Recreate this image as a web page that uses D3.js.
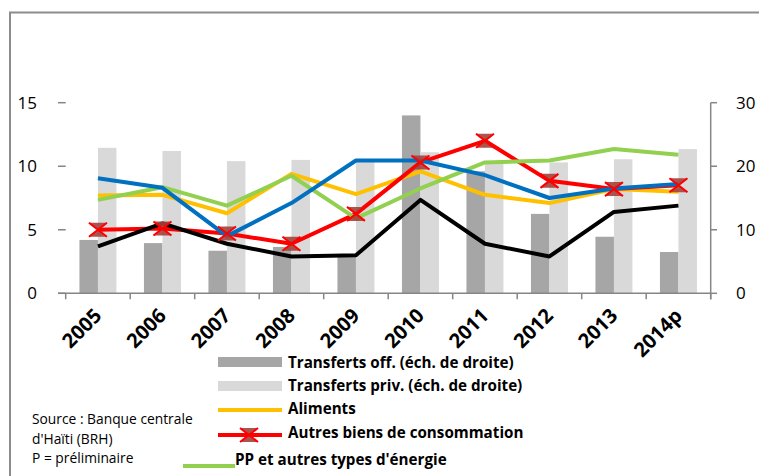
<!DOCTYPE html>
<html>
<head>
<meta charset="utf-8">
<script src="https://cdn.jsdelivr.net/npm/d3@7"></script>
<style>
  body { margin: 0; background: #fff; }
  svg { display: block; font-family: "Open Sans", Lato, sans-serif; }
</style>
</head>
<body>
<div class="graphic"></div>
<script>
var years = ["2005", "2006", "2007", "2008", "2009", "2010", "2011", "2012", "2013", "2014p"];

// right scale (bars)
var transfertsOff = [8.4, 7.9, 6.7, 7.3, 6.0, 28.0, 19.2, 12.5, 8.9, 6.5];
var transfertsPriv = [22.9, 22.4, 20.8, 21.0, 20.8, 22.2, 20.4, 20.6, 21.1, 22.7];

// left scale (lines)
var aliments = [7.7, 7.75, 6.3, 9.4, 7.8, 9.6, 7.75, 7.1, 8.2, 8.0];
var autresBiens = [5.0, 5.1, 4.7, 3.9, 6.25, 10.3, 12.0, 8.85, 8.2, 8.5];
var ppEnergie = [7.35, 8.35, 6.9, 9.25, 5.9, 8.25, 10.3, 10.45, 11.35, 10.9];
var serieBleue = [9.05, 8.3, 4.5, 7.1, 10.45, 10.45, 9.3, 7.5, 8.25, 8.6];
var serieNoire = [3.7, 5.5, 3.9, 2.9, 3.0, 7.35, 3.9, 2.9, 6.4, 6.9];

var leftTicks = [0, 5, 10, 15];
var rightTicks = [0, 10, 20, 30];

var render = function() {
  var width = 759, height = 476;
  var svg = d3.select(".graphic").append("svg")
    .attr("width", width).attr("height", height);

  var x = d3.scaleBand().domain(years).range([65.7, 710.7]).paddingInner(0).paddingOuter(0);
  var yL = d3.scaleLinear().domain([0, 15]).range([293.3, 102.7]);
  var yR = d3.scaleLinear().domain([0, 30]).range([293.3, 102.7]);
  var cx = function(d) { return x(d) + x.bandwidth() / 2; };
  var barW = 18.5;
  var axisColor = "#868686";

  // outer border (left + top)
  svg.append("path")
    .attr("d", "M10,476V12.5H759")
    .attr("fill", "none").attr("stroke", "#8c8c8c").attr("stroke-width", 2);

  // bars
  svg.append("g").selectAll("rect")
    .data(transfertsOff).enter().append("rect")
    .attr("x", function(d, i) { return cx(years[i]) - barW; })
    .attr("y", function(d) { return yR(d); })
    .attr("width", barW)
    .attr("height", function(d) { return yR(0) - yR(d); })
    .attr("fill", "#a6a6a6");

  svg.append("g").selectAll("rect")
    .data(transfertsPriv).enter().append("rect")
    .attr("x", function(d, i) { return cx(years[i]); })
    .attr("y", function(d) { return yR(d); })
    .attr("width", barW)
    .attr("height", function(d) { return yR(0) - yR(d); })
    .attr("fill", "#d9d9d9");

  // x axis
  var xAxis = svg.append("g").attr("transform", "translate(0," + yL(0) + ")");
  xAxis.append("line").attr("x1", 58).attr("x2", 711).attr("stroke", axisColor).attr("stroke-width", 1.5);
  xAxis.selectAll(".tk")
    .data(years.concat(["end"])).enter().append("line")
    .attr("x1", function(d) { return d == "end" ? 710.7 : x(d); })
    .attr("x2", function(d) { return d == "end" ? 710.7 : x(d); })
    .attr("y1", 0).attr("y2", 6)
    .attr("stroke", axisColor).attr("stroke-width", 1.5);

  svg.append("g").selectAll("text")
    .data(years).enter().append("text")
    .attr("transform", function(d) { return "translate(" + (cx(d) + 5) + "," + 317 + ") rotate(-45)"; })
    .attr("text-anchor", "end")
    .attr("font-weight", "bold")
    .attr("font-size", 20)
    .attr("fill", "#000")
    .text(function(d) { return d; });

  // left axis (ticks only)
  var left = svg.append("g");
  left.selectAll("line").data(leftTicks).enter().append("line")
    .attr("x1", 58).attr("x2", 65.7)
    .attr("y1", function(d) { return yL(d); }).attr("y2", function(d) { return yL(d); })
    .attr("stroke", axisColor).attr("stroke-width", 1.5);
  left.selectAll("text").data(leftTicks).enter().append("text")
    .attr("x", 37).attr("y", function(d) { return yL(d) + 6; })
    .attr("text-anchor", "end").attr("font-size", 17).attr("fill", "#000")
    .text(function(d) { return d; });

  // right axis
  var right = svg.append("g");
  right.append("line").attr("x1", 710.7).attr("x2", 710.7).attr("y1", yR(30)).attr("y2", yR(0) + 6)
    .attr("stroke", axisColor).attr("stroke-width", 1.5);
  right.selectAll(".tk").data(rightTicks).enter().append("line")
    .attr("x1", 710.7).attr("x2", 717)
    .attr("y1", function(d) { return yR(d); }).attr("y2", function(d) { return yR(d); })
    .attr("stroke", axisColor).attr("stroke-width", 1.5);
  right.selectAll("text").data(rightTicks).enter().append("text")
    .attr("x", 736).attr("y", function(d) { return yR(d) + 6; })
    .attr("font-size", 17).attr("fill", "#000")
    .text(function(d) { return d; });

  // lines
  var line = d3.line()
    .x(function(d, i) { return cx(years[i]); })
    .y(function(d) { return yL(d); });

  var series = [
    { values: aliments, color: "#ffc000" },
    { values: autresBiens, color: "#ff0000" },
    { values: ppEnergie, color: "#92d050" },
    { values: serieBleue, color: "#0070c0" },
    { values: serieNoire, color: "#000000" }
  ];

  svg.append("g").selectAll("path")
    .data(series).enter().append("path")
    .attr("d", function(d) { return line(d.values); })
    .attr("fill", "none")
    .attr("stroke", function(d) { return d.color; })
    .attr("stroke-width", 4)
    .attr("stroke-linejoin", "round");

  // markers: hourglass + X
  function marker(g, px, py) {
    var w = 9, h = 7;
    g.append("path")
      .attr("d", "M" + (px - w) + "," + (py - h) + "L" + (px + w) + "," + (py - h) + "L" + px + "," + py +
        "L" + (px + w) + "," + (py + h) + "L" + (px - w) + "," + (py + h) + "L" + px + "," + py + "Z")
      .attr("fill", "#a5403b").attr("fill-opacity", 0.9);
    g.append("path")
      .attr("d", "M" + (px - w) + "," + (py - h) + "L" + (px + w) + "," + (py + h) +
        "M" + (px + w) + "," + (py - h) + "L" + (px - w) + "," + (py + h))
      .attr("stroke", "#ff0000").attr("stroke-width", 2).attr("fill", "none");
  }
  var mk = svg.append("g");
  autresBiens.forEach(function(d, i) { marker(mk, cx(years[i]), yL(d)); });

  // legend
  var lg = svg.append("g").attr("font-weight", "bold").attr("font-size", 15.2).attr("fill", "#000");
  lg.append("rect").attr("x", 218).attr("y", 357).attr("width", 64).attr("height", 10).attr("fill", "#a6a6a6");
  lg.append("text").attr("x", 288).attr("y", 368).text("Transferts off. (éch. de droite)");
  lg.append("rect").attr("x", 218).attr("y", 381).attr("width", 64).attr("height", 10).attr("fill", "#d9d9d9");
  lg.append("text").attr("x", 288).attr("y", 391).text("Transferts priv. (éch. de droite)");
  lg.append("line").attr("x1", 218).attr("x2", 282).attr("y1", 410).attr("y2", 410)
    .attr("stroke", "#ffc000").attr("stroke-width", 4);
  lg.append("text").attr("x", 288).attr("y", 414).text("Aliments");
  lg.append("line").attr("x1", 218).attr("x2", 282).attr("y1", 435).attr("y2", 435)
    .attr("stroke", "#ff0000").attr("stroke-width", 4);
  marker(lg, 249, 435);
  lg.append("text").attr("x", 288).attr("y", 438).text("Autres biens de consommation");
  lg.append("line").attr("x1", 183).attr("x2", 235).attr("y1", 466).attr("y2", 466)
    .attr("stroke", "#92d050").attr("stroke-width", 4);
  lg.append("text").attr("x", 235).attr("y", 465).text("PP et autres types d'énergie");

  // source note
  var note = svg.append("g").attr("font-size", 13.8).attr("fill", "#000");
  note.append("text").attr("x", 32).attr("y", 424).text("Source : Banque centrale");
  note.append("text").attr("x", 32).attr("y", 444).text("d'Haïti (BRH)");
  note.append("text").attr("x", 32).attr("y", 463).text("P = préliminaire");
};

render();
</script>
</body>
</html>
